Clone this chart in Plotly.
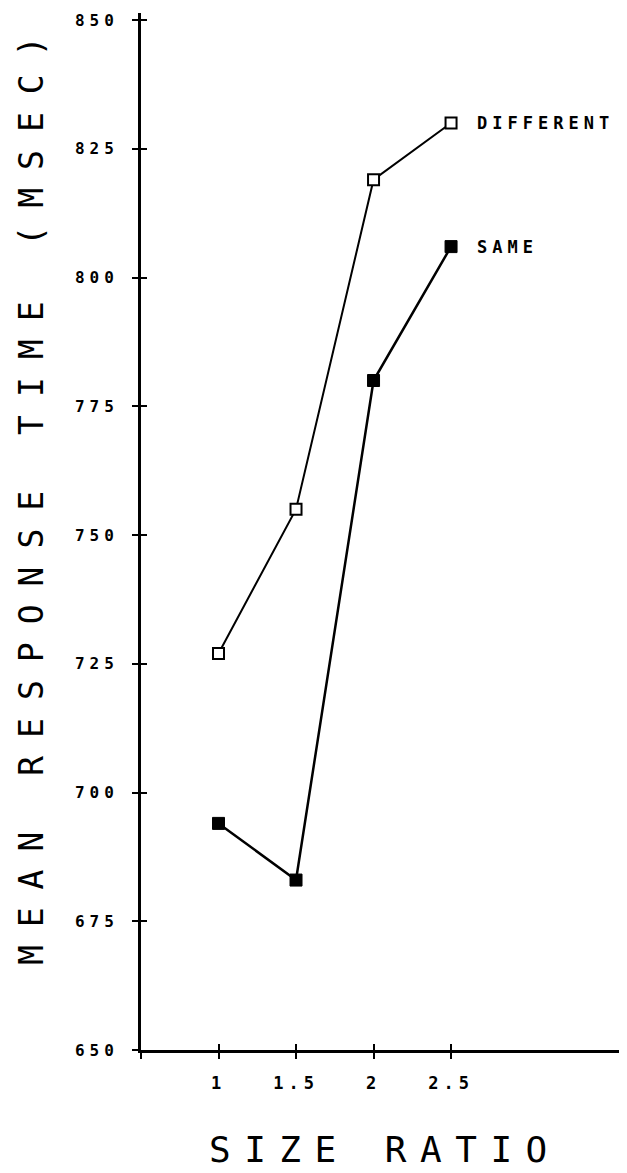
import plotly.graph_objects as go

size_ratio = [1, 1.5, 2, 2.5]
different_rt = [727, 755, 819, 830]
same_rt = [694, 683, 780, 806]

y_ticks = [650, 675, 700, 725, 750, 775, 800, 825, 850]
x_ticks = [0.5, 1, 1.5, 2, 2.5]
x_tick_labels = ["", "1", "1.5", "2", "2.5"]

series_names = ["DIFFERENT", "SAME"]
y_title = "MEAN RESPONSE TIME (MSEC)"
x_title = "SIZE RATIO"

MONO = "DejaVu Sans Mono"

def spaced(txt, px):
    return '<span style="letter-spacing:%spx">%s</span>' % (px, txt)

fig = go.Figure()

fig.add_trace(go.Scatter(
    x=size_ratio, y=different_rt, mode="lines+markers",
    line=dict(color="black", width=2),
    marker=dict(symbol="square", size=11, color="white",
                line=dict(color="black", width=2)),
    showlegend=False,
))
fig.add_trace(go.Scatter(
    x=size_ratio, y=same_rt, mode="lines+markers",
    line=dict(color="black", width=2.5),
    marker=dict(symbol="square", size=12, color="black",
                line=dict(color="black", width=1)),
    showlegend=False,
))

for name, ys in zip(series_names, [different_rt, same_rt]):
    fig.add_annotation(
        x=size_ratio[-1], y=ys[-1], xref="x", yref="y",
        text="<b>" + spaced(name, 5) + "</b>",
        showarrow=False, xanchor="left", yanchor="middle", xshift=24,
        font=dict(family=MONO, size=17, color="black"),
    )

fig.add_annotation(
    x=-0.2263, y=0.538, xref="paper", yref="paper",
    text=spaced(y_title, 18), textangle=-90,
    showarrow=False, xanchor="center", yanchor="middle",
    font=dict(family=MONO, size=33, color="black"),
)
fig.add_annotation(
    x=0.502, y=-0.0964, xref="paper", yref="paper",
    text=spaced(x_title, 13.5),
    showarrow=False, xanchor="center", yanchor="middle",
    font=dict(family=MONO, size=36, color="black"),
)

fig.update_layout(
    width=619, height=1165,
    margin=dict(l=133, r=0, t=5, b=123),
    paper_bgcolor="white", plot_bgcolor="white",
    xaxis=dict(
        range=[0.5, 3.635], tickmode="array", tickvals=x_ticks,
        ticktext=["<b>" + spaced(t, 5) + "</b>" for t in x_tick_labels],
        ticks="outside", ticklen=6, tickwidth=2, tickcolor="black",
        showline=True, linecolor="black", linewidth=3,
        showgrid=False, zeroline=False, ticklabelstandoff=10,
        tickfont=dict(family=MONO, size=17, color="black"),
    ),
    yaxis=dict(
        range=[650, 851.36], tickmode="array", tickvals=y_ticks,
        ticktext=["<b>" + spaced(str(v), 5) + "</b>" for v in y_ticks],
        ticks="outside", ticklen=6, tickwidth=2, tickcolor="black",
        showline=True, linecolor="black", linewidth=3,
        showgrid=False, zeroline=False, ticklabelstandoff=10,
        tickfont=dict(family=MONO, size=16, color="black"),
    ),
    xaxis2=dict(
        range=[0.5, 3.635], overlaying="x", tickmode="array", tickvals=x_ticks,
        showticklabels=False, ticks="inside", ticklen=6, tickwidth=2,
        tickcolor="black", showgrid=False, zeroline=False, showline=False,
        matches="x",
    ),
    yaxis2=dict(
        range=[650, 851.36], overlaying="y", tickmode="array", tickvals=y_ticks,
        showticklabels=False, ticks="inside", ticklen=6, tickwidth=2,
        tickcolor="black", showgrid=False, zeroline=False, showline=False,
        matches="y",
    ),
)

fig.add_trace(go.Scatter(x=[size_ratio[0]], y=[same_rt[0]], xaxis="x2", yaxis="y2",
                         mode="markers", marker=dict(opacity=0), showlegend=False,
                         hoverinfo="skip"))

fig.write_html("out.html")
